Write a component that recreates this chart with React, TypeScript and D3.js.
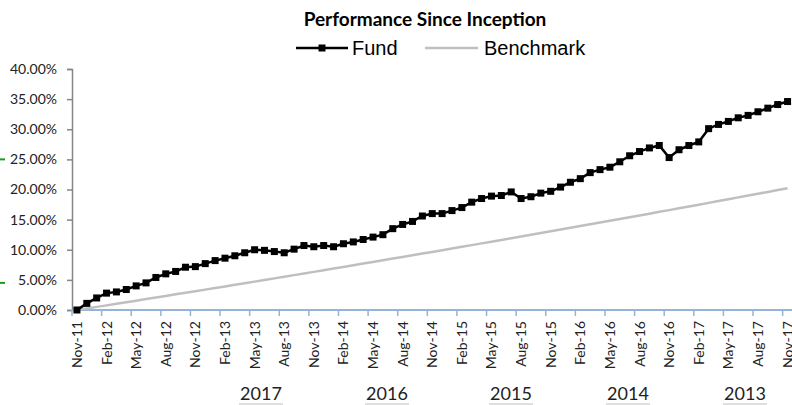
import React, { useEffect, useRef } from 'react'
import * as d3 from 'd3'

// monthly categories, Nov-11 .. Nov-17
const months: string[] = d3
  .timeMonth.range(new Date(2011, 10, 1), new Date(2017, 11, 1))
  .map(d3.timeFormat('%b-%y'))

// cumulative return, %
const fund = [
  0.0, 1.1, 2.0, 2.8, 3.0, 3.4, 4.0, 4.5, 5.4, 6.0, 6.4, 7.1, 7.2, 7.7, 8.2, 8.6, 9.0, 9.5, 10.0, 9.9,
  9.7, 9.5, 10.1, 10.7, 10.5, 10.7, 10.5, 11.0, 11.3, 11.7, 12.1, 12.5, 13.5, 14.2, 14.7, 15.6, 16.0,
  16.0, 16.5, 17.0, 17.9, 18.5, 18.9, 19.0, 19.6, 18.5, 18.8, 19.4, 19.7, 20.4, 21.2, 21.8, 22.8, 23.3,
  23.7, 24.6, 25.6, 26.3, 26.9, 27.3, 25.3, 26.6, 27.3, 27.9, 30.1, 30.8, 31.3, 31.9, 32.3, 32.9, 33.5,
  34.1, 34.6
]

const benchmark = [
  0, 0.26, 0.52, 0.77, 1.03, 1.29, 1.55, 1.81, 2.07, 2.34, 2.6, 2.86, 3.12, 3.38, 3.65, 3.91, 4.18,
  4.44, 4.71, 4.98, 5.25, 5.52, 5.79, 6.06, 6.33, 6.6, 6.88, 7.15, 7.42, 7.7, 7.97, 8.25, 8.53, 8.8,
  9.08, 9.36, 9.64, 9.92, 10.21, 10.49, 10.77, 11.06, 11.34, 11.63, 11.91, 12.2, 12.49, 12.77, 13.06,
  13.35, 13.64, 13.93, 14.23, 14.52, 14.81, 15.11, 15.4, 15.7, 15.99, 16.29, 16.58, 16.88, 17.18,
  17.48, 17.78, 18.08, 18.38, 18.69, 18.99, 19.29, 19.6, 19.9, 20.21
]

const yTicks = [0, 0.05, 0.1, 0.15, 0.2, 0.25, 0.3, 0.35, 0.4]
const years = ['2017', '2016', '2015', '2014', '2013']
const yearX = [261, 387, 511, 628, 745]

const W = 792
const H = 405
const margin = { top: 69, left: 72, bottom: 95 }
const FONT = 'Lato, "Open Sans", sans-serif'

export default function App() {
  const svgRef = useRef<SVGSVGElement>(null)

  useEffect(() => {
    if (!svgRef.current) return
    const svg = d3.select(svgRef.current)
    svg.selectAll('*').remove()

    const bottom = H - margin.bottom
    const x = d3.scaleBand().domain(months).range([margin.left, margin.left + 73 * 9.87]).padding(0)
    const y = d3.scaleLinear().domain([0, 0.4]).range([bottom, margin.top])
    const cx = (m: string) => (x(m) || 0) + x.bandwidth() / 2

    // title
    svg.append('text')
      .attr('x', 425).attr('y', 26)
      .attr('text-anchor', 'middle')
      .attr('font-family', FONT).attr('font-weight', 'bold').attr('font-size', 19)
      .text('Performance Since Inception')

    // legend
    const lg = svg.append('g').attr('font-family', '"Liberation Sans", Arial, sans-serif').attr('font-size', 20)
    lg.append('line').attr('x1', 296).attr('x2', 348).attr('y1', 48).attr('y2', 48)
      .attr('stroke', '#000').attr('stroke-width', 2.5)
    lg.append('rect').attr('x', 318.5).attr('y', 44.5).attr('width', 7).attr('height', 7).attr('fill', '#000')
    lg.append('text').attr('x', 352).attr('y', 55).text('Fund')
    lg.append('line').attr('x1', 425).attr('x2', 478).attr('y1', 48).attr('y2', 48)
      .attr('stroke', '#BFBFBF').attr('stroke-width', 2.5)
    lg.append('text').attr('x', 484).attr('y', 55).text('Benchmark')

    // y axis
    const yAxis = svg.append('g')
      .attr('transform', `translate(${margin.left},0)`)
      .call(d3.axisLeft(y).tickValues(yTicks).tickFormat(d3.format('.2%')).tickSize(5).tickPadding(10))
    yAxis.select('.domain').attr('stroke', '#868686').attr('stroke-width', 1.5)
    yAxis.selectAll('.tick line').attr('stroke', '#868686').attr('stroke-width', 1.5)
    yAxis.selectAll('.tick text').attr('font-family', FONT).attr('font-size', 14).attr('fill', '#222')

    // x axis
    const xa = svg.append('g')
    xa.append('line')
      .attr('x1', margin.left).attr('x2', W).attr('y1', bottom).attr('y2', bottom)
      .attr('stroke', '#95B3D7').attr('stroke-width', 2)
    const tickMonths = months.filter((_, i) => i % 3 === 0)
    xa.selectAll('line.tk').data(tickMonths).join('line')
      .attr('class', 'tk')
      .attr('x1', d => x(d) || 0).attr('x2', d => x(d) || 0)
      .attr('y1', bottom).attr('y2', bottom + 6)
      .attr('stroke', '#95B3D7').attr('stroke-width', 1.5)
    xa.selectAll('text').data(tickMonths).join('text')
      .attr('transform', d => `translate(${cx(d) + 5},${bottom + 11}) rotate(-90)`)
      .attr('text-anchor', 'end')
      .attr('font-family', FONT).attr('font-size', 14).attr('fill', '#222')
      .text(d => d)

    // year labels
    const yl = svg.append('g')
    yl.selectAll('text').data(years).join('text')
      .attr('x', (_, i) => yearX[i]).attr('y', 400)
      .attr('text-anchor', 'middle')
      .attr('font-family', FONT).attr('font-size', 18).attr('fill', '#222')
      .text(d => d)
    yl.selectAll('line').data(years).join('line')
      .attr('x1', (_, i) => yearX[i] - 22).attr('x2', (_, i) => yearX[i] + 22)
      .attr('y1', 404).attr('y2', 404)
      .attr('stroke', '#BFBFBF').attr('stroke-width', 1)

    // stray green marks at left edge
    svg.selectAll('line.gm').data([0.25, 0.045]).join('line')
      .attr('class', 'gm')
      .attr('x1', 0).attr('x2', 5)
      .attr('y1', d => y(d)).attr('y2', d => y(d))
      .attr('stroke', '#1E9A1E').attr('stroke-width', 2)

    // series
    const line = d3.line<number>()
      .x((_, i) => cx(months[i]))
      .y(d => y(d / 100))

    svg.append('path').datum(benchmark)
      .attr('d', line).attr('fill', 'none')
      .attr('stroke', '#BFBFBF').attr('stroke-width', 2.5)

    svg.append('path').datum(fund)
      .attr('d', line).attr('fill', 'none')
      .attr('stroke', '#000').attr('stroke-width', 2.5)

    svg.append('g').selectAll('rect').data(fund).join('rect')
      .attr('x', (_, i) => cx(months[i]) - 3.5)
      .attr('y', d => y(d / 100) - 3.5)
      .attr('width', 7).attr('height', 7)
      .attr('fill', '#000')
  }, [])

  return (
    <svg
      ref={svgRef}
      width={W}
      height={H}
      style={{ position: 'absolute', left: 0, top: 0, background: '#fff' }}
    />
  )
}
